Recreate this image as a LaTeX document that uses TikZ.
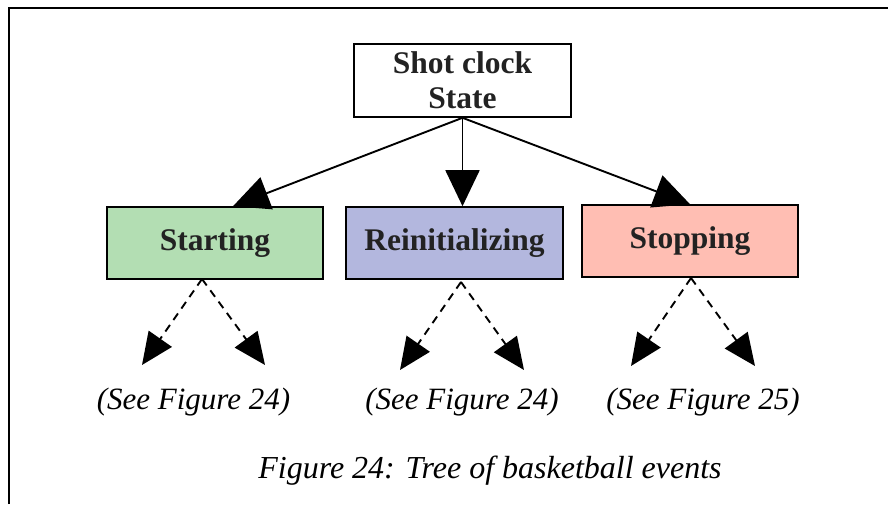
\documentclass[tikz,border=0pt]{standalone}
\usepackage{fontspec}
\setmainfont{Liberation Serif}
\usetikzlibrary{arrows.meta,calc}
\definecolor{txt}{HTML}{222222}
\definecolor{startfill}{HTML}{B3DEB3}
\definecolor{reinitfill}{HTML}{B3B7DE}
\definecolor{stopfill}{HTML}{FFBEB3}
\tikzset{
  box/.style={draw=black, line width=1.6pt, minimum width=216pt, minimum height=72pt,
    inner sep=0pt, align=center, text=txt,
    font=\fontsize{31.5}{35}\selectfont\bfseries},
  solidarrow/.style={line width=1.9pt, -{Triangle[length=36pt,width=34pt]}},
  dasharrow/.style={line width=1.9pt, dash pattern=on 8pt off 6pt,
    -{Triangle[length=32pt,width=28pt]}},
  refnote/.style={anchor=base, text=black, font=\fontsize{31}{35}\selectfont\itshape, inner sep=0pt},
}
\begin{document}
\begin{tikzpicture}[x=1pt,y=-1pt]
  \useasboundingbox (0,0) rectangle (888,504);
  % frame
  \draw[line width=1.5pt] (9,504) -- (9,8) -- (888,8);

  % nodes
  \node[box, minimum width=217pt, minimum height=73pt] (top) at (462.5,80.5) {Shot clock\\State};
  \node[box, fill=startfill] (start) at (215,243) {Starting};
  \node[box, fill=reinitfill, minimum width=217pt] (reinit) at (454.5,243) {Reinitializing};
  \node[box, fill=stopfill] (stop) at (690,241) {Stopping};

  % solid connectors
  \draw[solidarrow] (top.south) -- ($(start.north)+(18,0)$);
  \draw[solidarrow] (top.south) -- (top.south |- reinit.north);
  \draw[solidarrow] (top.south) -- (stop.north);

  % dashed branch origins and ends
  \coordinate (s0) at (202,279);
  \coordinate (s1) at (142,365);
  \coordinate (s2) at (265,365);
  \coordinate (r0) at (461,282);
  \coordinate (r1) at (400,370);
  \coordinate (r2) at (524,370);
  \coordinate (p0) at (691,278);
  \coordinate (p1) at (631,366);
  \coordinate (p2) at (755,366);

  \draw[dasharrow] (s0) -- (s1);
  \draw[dasharrow] (s0) -- (s2);
  \draw[dasharrow] (r0) -- (r1);
  \draw[dasharrow] (r0) -- (r2);
  \draw[dasharrow] (p0) -- (p1);
  \draw[dasharrow] (p0) -- (p2);

  % references
  \node[refnote] (n1) at (193.5,409) {(See Figure 24)};
  \node[refnote] (n2) at (462,409) {(See Figure 24)};
  \node[refnote] (n3) at (703,409) {(See Figure 25)};

  % caption
  \node[refnote, font=\fontsize{32}{36}\selectfont\itshape] (cap) at (490,478) {Figure 24: Tree of basketball events};
\end{tikzpicture}
\end{document}
